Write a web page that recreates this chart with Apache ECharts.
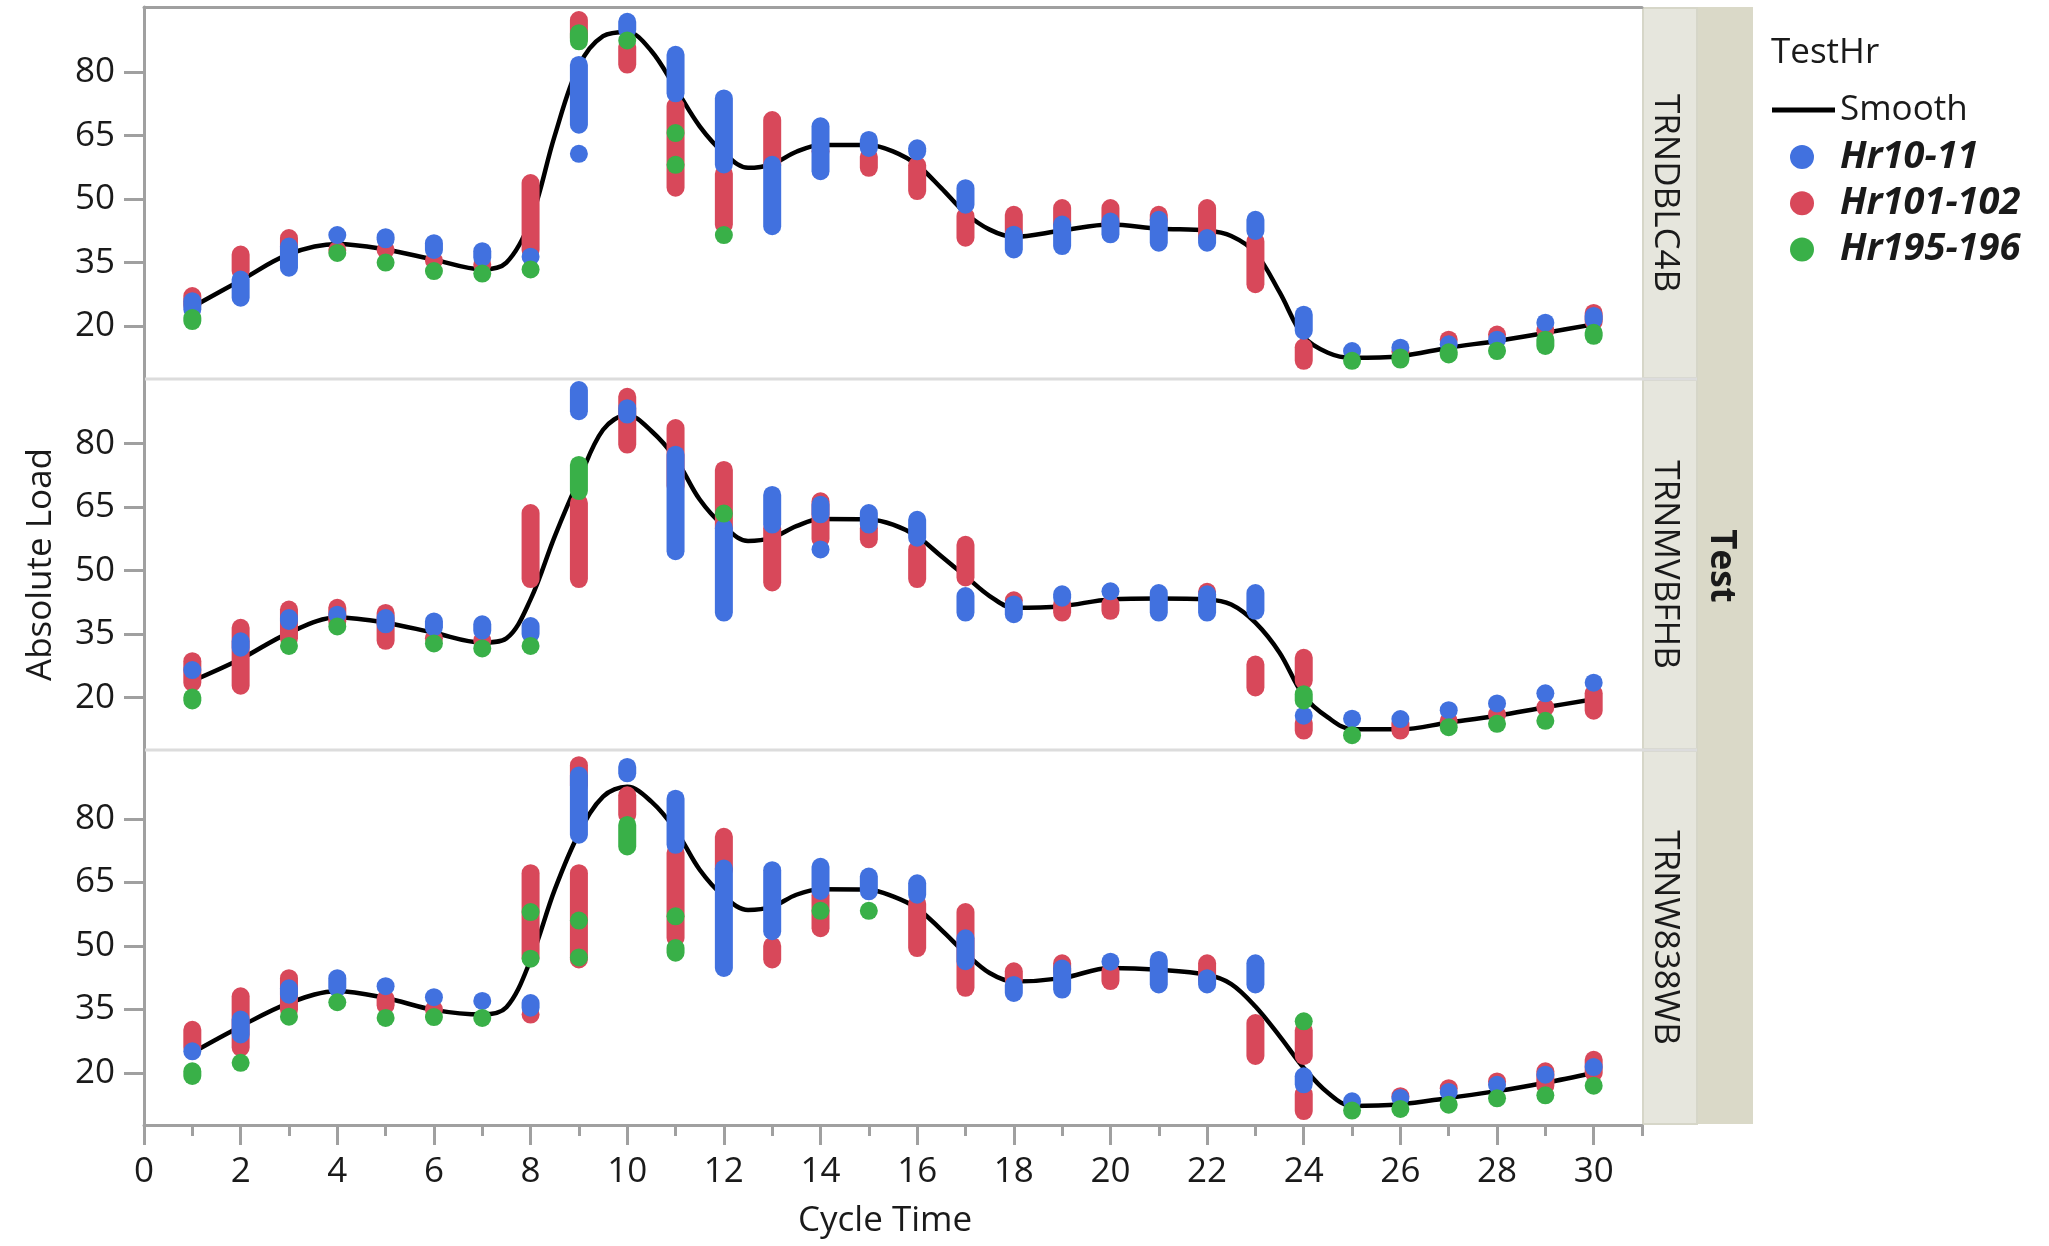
<!DOCTYPE html>
<html>
<head>
<meta charset="utf-8">
<script src="https://cdn.jsdelivr.net/npm/echarts@6/dist/echarts.min.js"></script>
<style>html,body{margin:0;padding:0;background:#fff}#c{width:2049px;height:1246px}</style>
</head>
<body>
<div id="c"></div>
<script>
// ---------------- DATA ----------------
const panelNames = ['TRNDBLC4B', 'TRNMVBFHB', 'TRNW838WB'];
const groupNames = ['Hr10-11', 'Hr101-102', 'Hr195-196'];
const cycleTickLabels = [0, 2, 4, 6, 8, 10, 12, 14, 16, 18, 20, 22, 24, 26, 28, 30];
const cycleMinorTicks = [1, 3, 5, 7, 9, 11, 13, 15, 17, 19, 21, 23, 25, 27, 29, 31];
const loadTickLabels = [20, 35, 50, 65, 80];

// Smooth curve
const smoothX = [1,2,3,4,5,6,7,7.5,8,8.5,9,9.5,10,10.5,11,11.5,12,12.5,13,13.5,14,15,15.5,16,16.5,17,17.5,18,19,20,21,22,22.5,23,23.5,24,24.5,25,26,27,28,29,30];
const smoothP1 = [24.5,30.8,37,39.4,38.1,35.7,33.4,35,45,65,81.5,88.5,89.5,85,76.2,67.2,60.9,57.4,58.3,61.2,62.8,62.8,61.3,58.1,52.6,46.7,42.8,41.1,42.6,44,43,42.6,41.3,37.3,28,17.5,13.7,12.5,12.9,14.9,16.5,18.4,20.4];
const smoothP2 = [23.9,29.1,35.3,38.9,37.7,35.3,33,34,43.2,58.1,71.5,83.3,86.8,83,76.5,66.8,60.5,57,57.8,60.5,62.2,62.1,60.9,58.1,53.4,48.7,44,41.2,41.6,43.2,43.4,43.2,42,37.7,30.6,20.4,15.3,12.5,12.5,14.1,15.7,17.7,19.6];
const smoothP3 = [24.8,31,36.5,39.3,37.7,34.9,33.8,35.5,46.7,63.3,76.6,85.3,87.6,84.1,77.4,68,61.7,58.5,59.3,62.1,63.4,63.3,61.7,58.9,53.8,48.3,43.6,41.6,42.4,44.8,44.4,43.2,41,35.7,28.7,21.2,15.3,12.2,12.6,14.1,15.7,17.7,20];

// Point stacks: [cycle time, lowest load, highest load]
const p1Blue = [[1,24,25.9],[2,26.7,31],[3,33.8,38.8],[4,41.5,41.5],[5,40.5,41],[6,38,39.6],[7,36.2,37.7],[8,36.4,36.4],[9,67.6,81.7],[9,60.7,60.7],[10,90,91.9],[11,75,84.1],[12,58.2,73.8],[13,43.6,58.1],[14,56.6,67.2],[15,62.1,64],[16,61.3,62],[17,48.7,52.6],[18,38.1,41.6],[19,38.9,44],[20,41.7,44.7],[21,39.7,45.1],[22,39.7,40.8],[23,42.5,45.1],[24,18.9,22.7],[25,14.1,14.1],[26,14.9,14.9],[27,15.7,15.7],[28,16.8,16.8],[29,20.8,20.8],[30,21.6,22.4]];
const p1Red = [[1,25,27.1],[2,33,36.9],[3,38,40.8],[4,38,38],[5,38,38],[6,35.5,35.5],[7,34.5,34.5],[8,38,53.8],[9,88,92.3],[10,81.8,86],[11,52.7,72],[12,44,56],[13,58,68.7],[14,61.3,61.3],[15,57.4,60],[16,51.9,58],[17,40.9,46],[18,42,46.3],[19,44,47.9],[20,44,47.9],[21,45,46.3],[22,41,47.9],[23,29.9,40],[24,11.8,15],[26,14,14],[27,16.8,16.8],[28,18,18],[29,19,19],[30,21,23.1]];
const p1Green = [[1,21.2,21.9],[4,37.3,37.3],[5,35,35],[6,33,33],[7,32.4,32.4],[8,33.4,33.4],[9,87.3,89.2],[10,87.5,87.5],[11,58.1,58.1],[11,65.6,65.6],[12,41.5,41.5],[25,11.8,11.8],[26,12.1,12.6],[27,13.3,13.8],[28,14.1,14.2],[29,15.3,16.8],[30,17.7,18.4]];

const p2Blue = [[1,26.5,26.5],[2,31.8,33.3],[3,38.1,38.8],[4,39.6,39.6],[5,37.3,38.8],[6,36.6,38],[7,35.8,37.3],[8,35,36.9],[9,87.7,92.7],[10,86.9,88.4],[11,54.6,77.4],[12,40.1,60.1],[13,60.9,67.9],[14,63.3,65.6],[14,55,55],[15,60.9,63.6],[16,57.8,62],[17,40.1,44],[18,39.7,42],[19,43.6,44.4],[20,45.1,45.1],[21,40.1,44.7],[22,40.1,44.4],[23,40.5,44.7],[24,15.7,15.7],[25,15,15],[26,14.9,14.9],[27,17,17],[28,18.6,18.6],[29,21,21],[30,23.5,23.5]];
const p2Red = [[1,23.5,28.6],[2,22.8,36.5],[3,34,40.8],[4,38,41.2],[5,33.4,40],[6,34,34],[7,33.5,33.5],[8,48,63.6],[9,48,66],[10,79.8,91.1],[11,70,83.7],[12,60,73.8],[13,47.2,60],[14,57.5,66.4],[15,57.4,60],[16,48,55],[17,48.4,56.1],[18,43,43],[19,40.1,42],[20,40.5,42],[22,45,45],[23,22.4,27.8],[24,24,29.4],[24,12.2,14],[26,12.2,14],[27,14.5,14.5],[28,16,16],[29,17.7,17.7],[30,16.9,21]];
const p2Green = [[1,19.3,20],[3,32.2,32.2],[4,36.8,36.8],[6,32.8,32.8],[7,31.6,31.6],[8,32.2,32.2],[9,68.8,75],[12,63.5,63.5],[24,19.3,20.8],[25,11.1,11.1],[27,13,13],[28,13.8,13.8],[29,14.5,14.5]];

const p3Blue = [[1,25.1,25.1],[2,29.1,32.6],[3,38.5,40],[4,40.1,42.4],[5,40.5,40.5],[6,37.9,37.9],[7,37,37],[8,35.4,36.5],[9,76.3,90.3],[10,90.8,92.3],[11,73.9,84.8],[12,44.8,68.3],[13,53.5,67.9],[14,63,68.7],[15,62.9,66.4],[16,62.1,64.8],[17,46.4,51.8],[18,38.9,40.8],[19,39.7,44.7],[20,46.3,46.3],[21,40.9,46.7],[22,40.9,42.4],[23,40.9,45.9],[24,17.3,19.2],[25,13.3,13.3],[26,14.1,14.1],[27,15.5,15.5],[28,17.2,17.2],[29,19.6,19.6],[30,21.4,21.4]];
const p3Red = [[1,26,30.2],[2,26,38.1],[3,35,42.4],[5,36,37.5],[6,35,35],[8,47.2,67.2],[8,33.8,33.8],[9,88,92.7],[9,46.8,67.2],[10,81,85.6],[11,51.9,72],[12,68,75.8],[13,46.8,50],[14,54.2,62],[16,49.5,60],[17,40.1,58],[18,42,44],[19,44,45.9],[20,41.7,44],[22,42,45.9],[23,24,31.8],[24,24,30],[24,11,15],[26,14.5,14.5],[27,16.4,16.4],[28,18,18],[29,17,20.4],[30,20,23.1]];
const p3Green = [[1,19.3,20.4],[2,22.4,22.4],[3,33.3,33.3],[4,36.7,36.7],[5,33,33],[6,33.2,33.2],[7,33,33],[8,47,47],[8,58,58],[9,47.3,47.3],[9,56,56],[10,73.5,78.6],[11,48.4,49.5],[11,57,57],[14,58.3,58.3],[15,58.3,58.3],[24,32.2,32.2],[25,11.1,11.1],[26,11.5,11.5],[27,12.5,12.5],[28,14,14],[29,14.7,14.7],[30,17,17]];

// ---------------- CHART ----------------
const FONT = "'Open Sans', 'Noto Sans', sans-serif";
const TEXT = '#1A1A1A';
const AXIS_GRAY = '#A0A0A0';
const COLORS = {blue: '#4171DF', red: '#D8485A', green: '#39B048'};
const MARK = 18;

const gridBoxes = [
  {left: 144, top: 7, width: 1498, height: 372},
  {left: 144, top: 379, width: 1498, height: 371},
  {left: 144, top: 750, width: 1498, height: 375}
];
const yRanges = [[7.5, 95.4], [7.6, 95.3], [7.7, 96.3]];
const smoothByPanel = [smoothP1, smoothP2, smoothP3];
const pointsByPanel = [
  {blue: p1Blue, red: p1Red, green: p1Green},
  {blue: p2Blue, red: p2Red, green: p2Green},
  {blue: p3Blue, red: p3Red, green: p3Green}
];
const groupKey = {'Hr10-11': 'blue', 'Hr101-102': 'red', 'Hr195-196': 'green'};
const drawOrder = ['Hr101-102', 'Hr10-11', 'Hr195-196'];

function renderStack(params, api) {
  const x = api.value(0), lo = api.value(1), hi = api.value(2);
  const top = api.coord([x, hi]);
  const bot = api.coord([x, lo]);
  const r = MARK / 2;
  return {
    type: 'rect',
    shape: {x: top[0] - r, y: top[1] - r, width: MARK, height: bot[1] - top[1] + MARK, r: r},
    style: {fill: api.visual('color')}
  };
}

const series = [];
for (let p = 0; p < 3; p++) {
  series.push({
    name: 'Smooth', type: 'line', xAxisIndex: p, yAxisIndex: p,
    data: smoothX.map((x, i) => [x, smoothByPanel[p][i]]),
    smooth: 0.35, showSymbol: false, symbol: 'none', z: 1,
    lineStyle: {color: '#000', width: 4.5}, itemStyle: {color: '#000'}
  });
  drawOrder.forEach(name => {
    const key = groupKey[name];
    series.push({
      name: name, type: 'custom', coordinateSystem: 'cartesian2d',
      xAxisIndex: p, yAxisIndex: p, z: 2,
      itemStyle: {color: COLORS[key]},
      dimensions: ['x', 'lo', 'hi'],
      encode: {x: 0, y: [1, 2]},
      renderItem: renderStack,
      data: pointsByPanel[p][key]
    });
  });
}

const axisLineStyle = {color: AXIS_GRAY, width: 3};
const labelStyle = {fontSize: 35, color: TEXT, fontFamily: FONT};

const option = {
  animation: false,
  backgroundColor: '#fff',
  title: {text: 'TestHr', left: 1771, top: 36, padding: 0,
    textStyle: {fontSize: 35, fontWeight: 'normal', color: TEXT, fontFamily: FONT, lineHeight: 35}},
  legend: [
    {data: [{name: 'Smooth', icon: 'rect'}], left: 1772, top: 90, padding: 0,
      itemWidth: 63, itemHeight: 5, selectedMode: false,
      textStyle: {fontSize: 35, color: TEXT, fontFamily: FONT, lineHeight: 40}},
    {data: groupNames.map(n => ({name: n, icon: 'circle'})), orient: 'vertical',
      left: 1790, top: 137, padding: 0, itemWidth: 24, itemHeight: 24, itemGap: 6.3, selectedMode: false,
      textStyle: {fontSize: 38, fontWeight: 'bold', fontStyle: 'italic', color: TEXT, fontFamily: FONT,
        lineHeight: 40, padding: [0, 0, 0, 21]}}
  ],
  grid: gridBoxes,
  xAxis: [
    {gridIndex: 0, type: 'value', min: 0, max: 31, position: 'top',
      axisLine: {show: true, onZero: false, lineStyle: axisLineStyle},
      axisTick: {show: false}, axisLabel: {show: false}, splitLine: {show: false}},
    {gridIndex: 1, type: 'value', min: 0, max: 31, show: false},
    {gridIndex: 2, type: 'value', min: 0, max: 31, position: 'bottom', offset: 0,
      axisLine: {show: true, onZero: false, lineStyle: axisLineStyle},
      axisTick: {show: true, customValues: cycleTickLabels, length: 20, lineStyle: axisLineStyle},
      axisLabel: Object.assign({customValues: cycleTickLabels, margin: 30}, labelStyle),
      splitLine: {show: false},
      name: 'Cycle Time', nameLocation: 'middle', nameGap: 79,
      nameTextStyle: Object.assign({padding: [0, 16, 0, 0]}, labelStyle)},
    {gridIndex: 2, type: 'value', min: 0, max: 31, position: 'bottom', offset: 0,
      axisLine: {show: false, onZero: false},
      axisTick: {show: true, customValues: cycleMinorTicks, length: 11, lineStyle: axisLineStyle},
      axisLabel: {show: false}, splitLine: {show: false}}
  ],
  yAxis: [0, 1, 2].map(i => ({
    gridIndex: i, type: 'value', min: yRanges[i][0], max: yRanges[i][1],
    axisLine: {show: true, onZero: false, lineStyle: axisLineStyle},
    axisTick: {show: true, customValues: loadTickLabels, length: 20, lineStyle: axisLineStyle},
    axisLabel: Object.assign({customValues: loadTickLabels, margin: 29}, labelStyle),
    splitLine: {show: false},
    name: i === 1 ? 'Absolute Load' : '',
    nameLocation: 'middle', nameGap: 85, nameRotate: 90,
    nameTextStyle: labelStyle
  })),
  series: series,
  graphic: [
    {type: 'rect', z: 0, shape: {x: 1697, y: 7, width: 56, height: 1117}, style: {fill: '#DAD9C8'}},
    ...gridBoxes.map(g => ({type: 'rect', z: 0,
      shape: {x: 1643, y: g.top + 1, width: 54, height: g.height - 2},
      style: {fill: '#E6E6DD', stroke: '#D6D6C8', lineWidth: 2}})),
    {type: 'line', z: 10, shape: {x1: 145, y1: 379, x2: 1697, y2: 379}, style: {stroke: '#DCDCDC', lineWidth: 3}},
    {type: 'line', z: 10, shape: {x1: 145, y1: 750, x2: 1697, y2: 750}, style: {stroke: '#DCDCDC', lineWidth: 3}},
    ...gridBoxes.map((g, i) => ({type: 'text', z: 10, x: 1665, y: g.top + g.height / 2, rotation: -Math.PI / 2,
      style: {text: panelNames[i], fontSize: 35, fontFamily: FONT, fill: TEXT, align: 'center', verticalAlign: 'middle'}})),
    {type: 'text', z: 10, x: 1721, y: 566, rotation: -Math.PI / 2,
      style: {text: 'Test', fontSize: 35, fontWeight: 'bold', fontFamily: FONT, fill: TEXT, align: 'center', verticalAlign: 'middle'}}
  ]
};

const chart = echarts.init(document.getElementById('c'), null, {renderer: 'canvas', width: 2049, height: 1246});
chart.setOption(option);
</script>
</body>
</html>
